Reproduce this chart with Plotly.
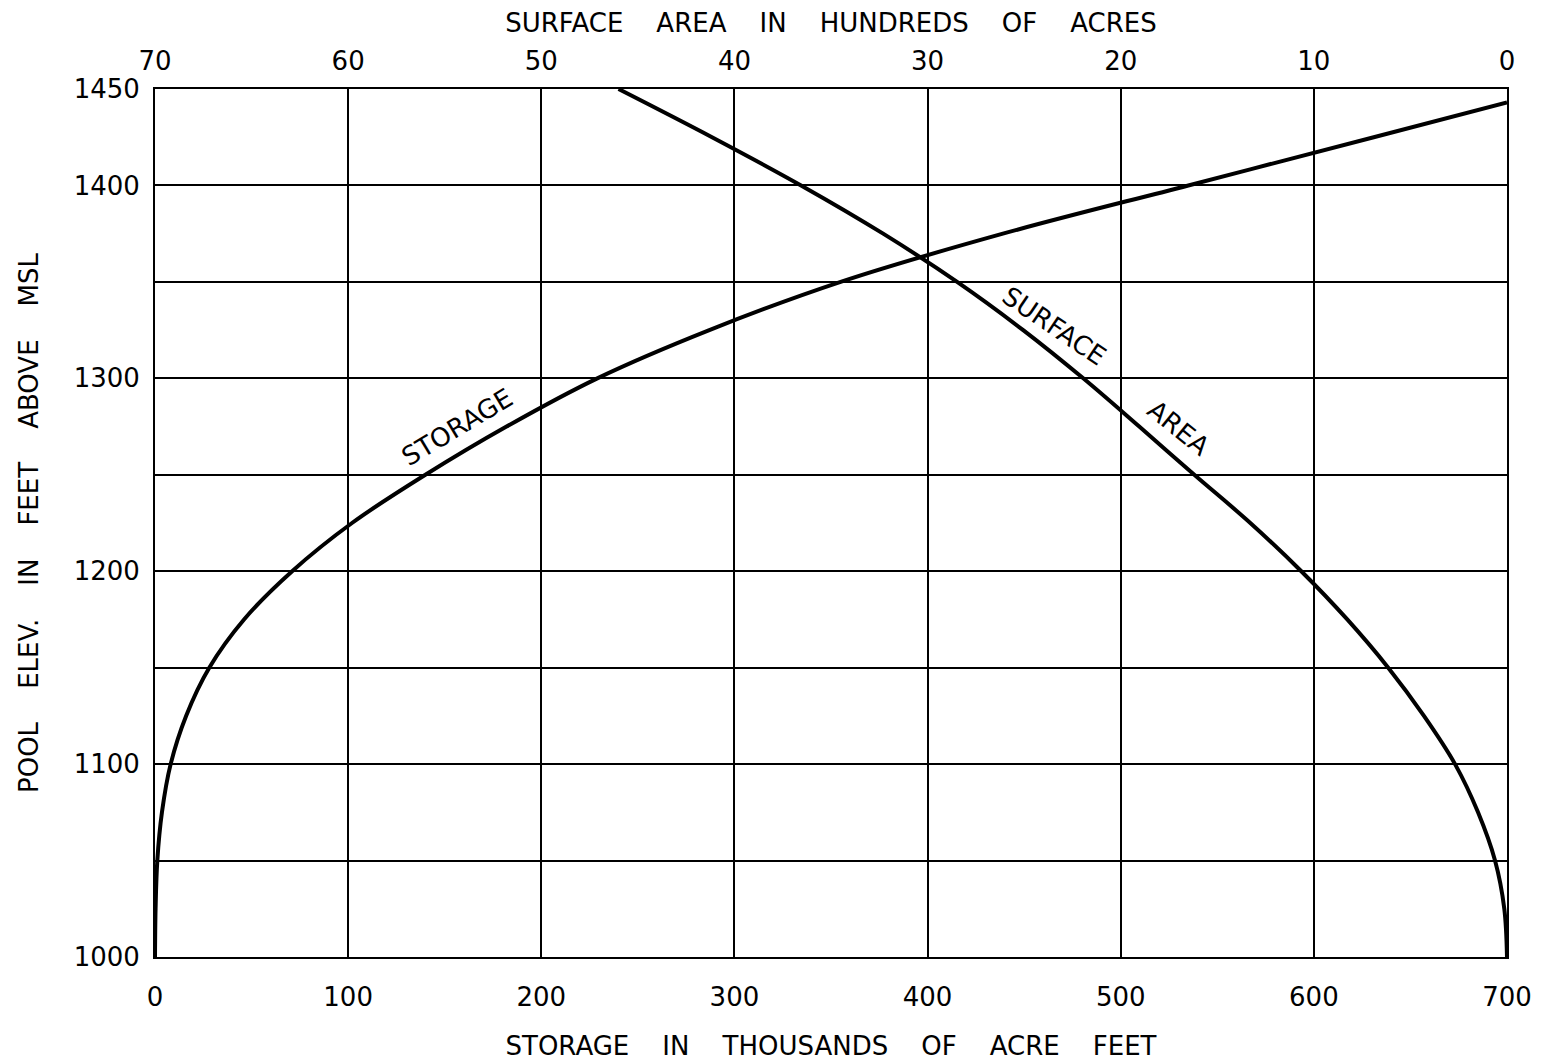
import plotly.graph_objects as go

# ---- data ----
storage_elev = [1000, 1025, 1050, 1075, 1100, 1125, 1150, 1175, 1200, 1225,
                1250, 1275, 1300, 1325, 1350, 1375, 1400, 1425, 1443]
storage_kaf = [0, 0.3, 1.2, 3.6, 8.1, 16.1, 28.1, 46.1, 71, 102,
               140, 182, 229, 287, 355, 439, 535, 631, 700]

area_elev = [1000, 1025, 1050, 1075, 1100, 1125, 1150, 1175, 1200, 1225,
             1250, 1275, 1300, 1325, 1350, 1375, 1400, 1425, 1450]
area_hundreds_acres = [0, 0.14, 0.62, 1.5, 2.69, 4.3, 6.15, 8.27, 10.65, 13.29,
                       16.19, 19.04, 21.94, 25.05, 28.47, 32.3, 36.55, 41.16, 46.0]

storage_ticks = [0, 100, 200, 300, 400, 500, 600, 700]
area_ticks = [70, 60, 50, 40, 30, 20, 10, 0]
elev_ticks = [1000, 1050, 1100, 1150, 1200, 1250, 1300, 1350, 1400, 1450]
elev_labels = ["1000", "", "1100", "", "1200", "", "1300", "", "1400", "1450"]

GAP = "\u00a0" * 4


def spaced(*words):
    return GAP.join(words)


FONT = "DejaVu Sans"
FS = 26

fig = go.Figure()
fig.add_trace(go.Scatter(
    x=storage_kaf, y=storage_elev, mode="lines", xaxis="x", yaxis="y",
    line=dict(color="black", width=4, shape="spline", smoothing=1.0),
    showlegend=False, hoverinfo="skip"))
fig.add_trace(go.Scatter(
    x=area_hundreds_acres, y=area_elev, mode="lines", xaxis="x2", yaxis="y",
    line=dict(color="black", width=4, shape="spline", smoothing=1.0),
    showlegend=False, hoverinfo="skip"))

# curve labels
fig.add_annotation(x=156.6, y=1275, xref="x", yref="y", text="STORAGE",
                   showarrow=False, textangle=-31,
                   font=dict(family=FONT, size=FS, color="black"))
fig.add_annotation(x=465.5, y=1327, xref="x", yref="y", text="SURFACE",
                   showarrow=False, textangle=34,
                   font=dict(family=FONT, size=FS, color="black"))
fig.add_annotation(x=529.8, y=1274, xref="x", yref="y", text="AREA",
                   showarrow=False, textangle=39,
                   font=dict(family=FONT, size=FS, color="black"))

axis_common = dict(
    showline=True, linecolor="black", linewidth=2, zeroline=False,
    ticks="", tickfont=dict(family=FONT, size=FS, color="black"),
    automargin=False,
)

fig.update_layout(
    width=1543, height=1061,
    margin=dict(l=155, r=36, t=89, b=104),
    paper_bgcolor="white", plot_bgcolor="white",
    font=dict(family=FONT, size=FS, color="black"),
    xaxis=dict(
        range=[0, 700], tickvals=storage_ticks,
        showgrid=True, gridcolor="black", gridwidth=1.5, mirror=True,
        ticklabelstandoff=16,
        title=dict(text=spaced("STORAGE", "IN", "THOUSANDS", "OF", "ACRE", "FEET"),
                   standoff=26, font=dict(family=FONT, size=FS, color="black")),
        **axis_common),
    xaxis2=dict(
        range=[70, 0], tickvals=area_ticks, overlaying="x", side="top",
        showgrid=False, anchor="y", ticklabelstandoff=7,
        title=dict(text=spaced("SURFACE", "AREA", "IN", "HUNDREDS", "OF", "ACRES"),
                   standoff=5, font=dict(family=FONT, size=FS, color="black")),
        **axis_common),
    yaxis=dict(
        range=[1000, 1450], tickvals=elev_ticks, ticktext=elev_labels,
        showgrid=True, gridcolor="black", gridwidth=1.5, mirror=True,
        ticklabelstandoff=8,
        title=dict(text=spaced("POOL", "ELEV.", "IN", "FEET", "ABOVE", "MSL"),
                   standoff=28, font=dict(family=FONT, size=FS, color="black")),
        **axis_common),
)

fig.write_html("out.html", config={"displayModeBar": False},
               post_script="document.body.style.margin='0px';")
